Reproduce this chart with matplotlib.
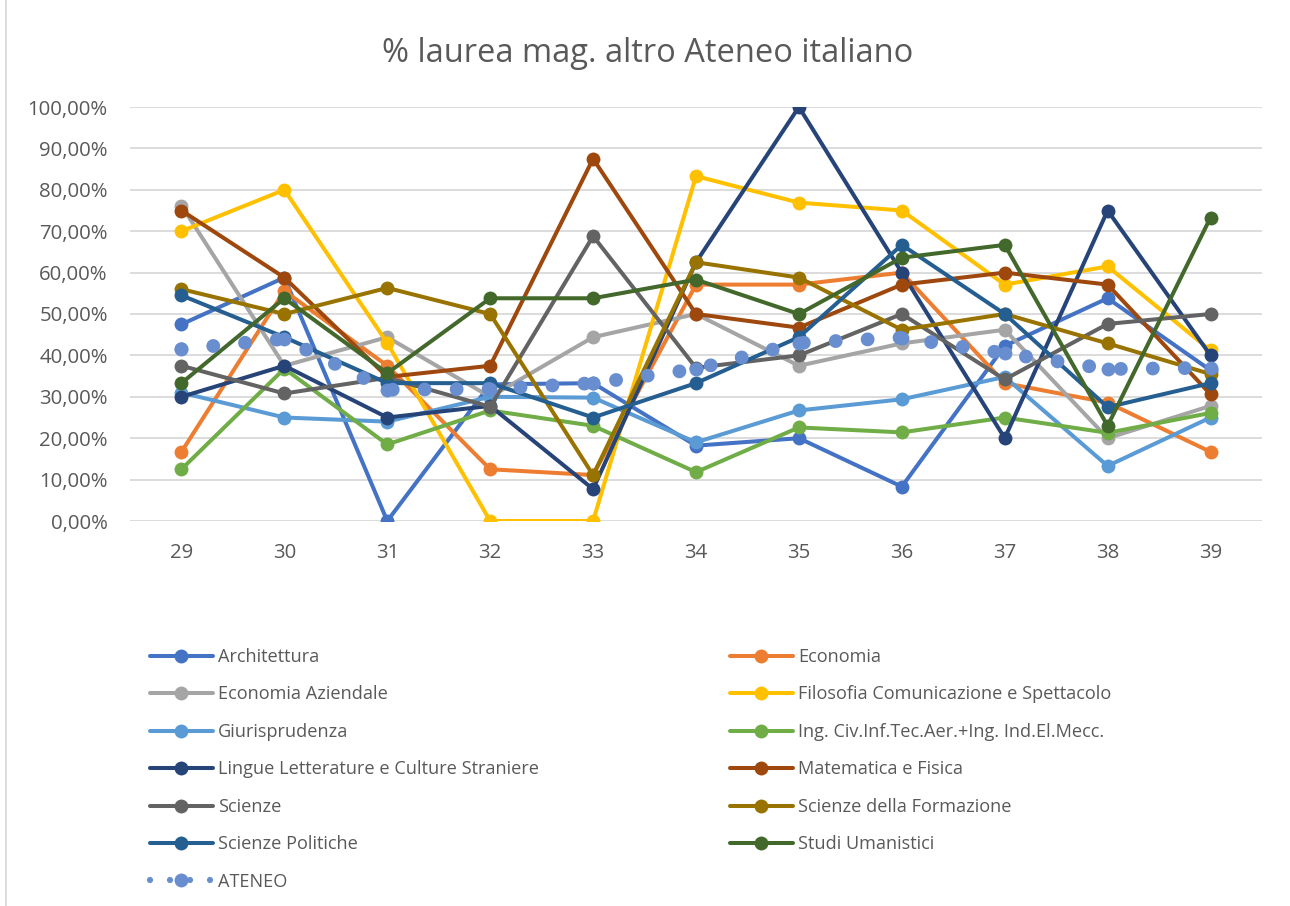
import matplotlib
matplotlib.use("Agg")
import matplotlib.pyplot as plt
from matplotlib.ticker import FuncFormatter
from matplotlib.lines import Line2D

categories = ["29", "30", "31", "32", "33", "34", "35", "36", "37", "38", "39"]

architettura = [47.5, 58.8, 0.0, 33.0, 33.3, 18.2, 20.0, 8.3, 42.3, 53.8, 36.4]
economia = [16.7, 55.6, 37.5, 12.5, 11.1, 57.1, 57.1, 60.0, 33.3, 28.6, 16.7]
economia_aziendale = [76.2, 37.5, 44.4, 30.0, 44.4, 50.0, 37.5, 42.9, 46.2, 20.0, 27.8]
filosofia = [70.0, 80.0, 43.0, 0.0, 0.0, 83.3, 76.9, 75.0, 57.1, 61.5, 41.2]
giurisprudenza = [31.0, 25.0, 24.0, 30.0, 29.8, 19.0, 26.7, 29.4, 34.8, 13.3, 25.0]
ingegneria = [12.5, 36.8, 18.5, 26.7, 23.0, 11.8, 22.6, 21.4, 25.0, 21.3, 26.1]
lingue = [30.0, 37.5, 25.0, 27.8, 7.7, 62.5, 100.0, 60.0, 20.0, 75.0, 40.0]
matematica = [75.0, 58.8, 34.8, 37.5, 87.5, 50.0, 46.7, 57.1, 60.0, 57.1, 30.6]
scienze = [37.5, 30.8, 34.6, 27.6, 68.8, 37.0, 40.0, 50.0, 34.2, 47.6, 50.0]
scienze_formazione = [56.0, 50.0, 56.3, 50.0, 11.1, 62.5, 58.8, 46.2, 50.0, 42.9, 35.5]
scienze_politiche = [54.5, 44.4, 33.3, 33.3, 25.0, 33.3, 44.4, 66.7, 50.0, 27.5, 33.3]
studi_umanistici = [33.3, 53.8, 35.7, 53.8, 53.8, 58.3, 50.0, 63.6, 66.7, 23.0, 73.3]
ateneo = [41.5, 44.0, 31.7, 31.9, 33.3, 36.7, 43.0, 44.3, 40.5, 36.7, 37.0]

series_names = [
    "Architettura", "Economia", "Economia Aziendale",
    "Filosofia Comunicazione e Spettacolo", "Giurisprudenza",
    "Ing. Civ.Inf.Tec.Aer.+Ing. Ind.El.Mecc.",
    "Lingue Letterature e Culture Straniere", "Matematica e Fisica",
    "Scienze", "Scienze della Formazione", "Scienze Politiche",
    "Studi Umanistici", "ATENEO",
]
series_values = [
    architettura, economia, economia_aziendale, filosofia, giurisprudenza,
    ingegneria, lingue, matematica, scienze, scienze_formazione,
    scienze_politiche, studi_umanistici, ateneo,
]
colors = [
    "#4472C4", "#ED7D31", "#A5A5A5", "#FFC000", "#5B9BD5", "#70AD47",
    "#264478", "#9E480E", "#636363", "#997300", "#255E91", "#43682B",
    "#698ED0",
]

plt.rcParams['font.family'] = ['Open Sans', 'DejaVu Sans']
TXT = "#595959"

W, H = 1290, 906
fig = plt.figure(figsize=(W / 100, H / 100), dpi=100)
ax = fig.add_axes([130 / W, (H - 521) / H, (1262 - 130) / W, (521 - 107) / H])

x = list(range(len(categories)))
handles = []
for i, (name, vals, c) in enumerate(zip(series_names, series_values, colors)):
    yv = [v / 100 for v in vals]
    if name == "ATENEO":
        ax.plot(x, yv, color=c, linewidth=10, linestyle=(0, (0.001, 2.3)),
                dash_capstyle='round', marker='o', markersize=10,
                markeredgewidth=0, zorder=3 + i)
        ln = Line2D([], [], color=c, linewidth=4.5, linestyle=(0, (0.001, 3.2)),
                    dash_capstyle='round', marker='o', markersize=10,
                    markeredgewidth=0)
    else:
        ln, = ax.plot(x, yv, color=c, linewidth=2.9, marker='o',
                      markersize=10, markeredgewidth=0,
                      solid_capstyle='round', solid_joinstyle='round',
                      zorder=3 + i)
    handles.append(ln)

ax.set_xlim(-0.5, len(categories) - 0.5)
ax.set_ylim(0, 1.0)
ax.set_yticks([i / 10 for i in range(11)])
ax.yaxis.set_major_formatter(FuncFormatter(lambda v, p: ("%.2f%%" % (v * 100)).replace('.', ',')))
ax.set_xticks(x)
ax.set_xticklabels(categories)
ax.tick_params(axis='both', length=0, labelsize=14.7, labelcolor=TXT)
ax.tick_params(axis='y', pad=16)
ax.tick_params(axis='x', pad=16)
ax.grid(axis='y', color='#D9D9D9', linewidth=1.3)
ax.set_axisbelow(True)
for s in ax.spines.values():
    s.set_visible(False)

fig.text(648 / W, 1 - 54 / H, "% laurea mag. altro Ateneo italiano",
         ha='center', va='center', fontsize=23.5, color=TXT)

# left border of chart area
fig.add_artist(Line2D([6 / W, 6 / W], [0, 1], color='#D9D9D9', linewidth=1.3))

left_idx = [0, 2, 4, 6, 8, 10, 12]
right_idx = [1, 3, 5, 7, 9, 11]
leg_kw = dict(frameon=False, fontsize=13.1, labelcolor=TXT, handlelength=3.45,
              handletextpad=0.3, labelspacing=1.07, borderpad=0, borderaxespad=0)
leg1 = fig.legend([handles[i] for i in left_idx], [series_names[i] for i in left_idx],
                  loc='upper left', bbox_to_anchor=(150 / W, 1 - 648 / H), **leg_kw)
leg2 = fig.legend([handles[i] for i in right_idx], [series_names[i] for i in right_idx],
                  loc='upper left', bbox_to_anchor=(730 / W, 1 - 648 / H), **leg_kw)

fig.savefig("out.png", dpi=100, facecolor='white')
